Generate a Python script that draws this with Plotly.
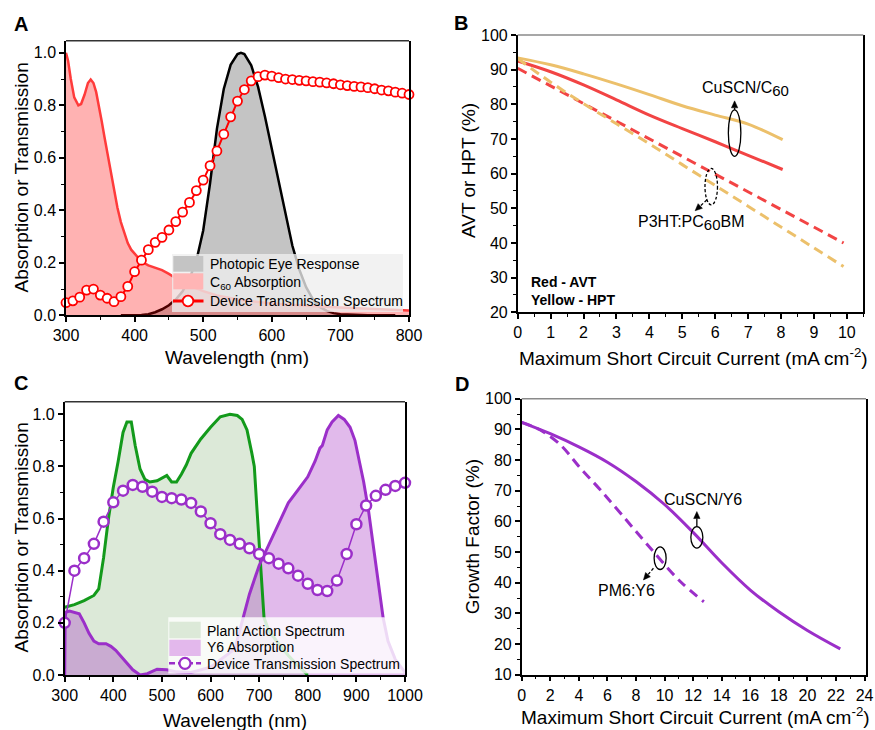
import plotly.graph_objects as go

# ---------------- DATA ----------------
# Panel A
wl_photopic = [380, 390, 400, 410, 420, 430, 440, 450, 460, 470, 480, 490, 500, 510, 520, 530, 540, 550, 555,
               560, 570, 580, 590, 600, 610, 620, 630, 640, 650, 660, 670, 680, 690, 700, 720, 740, 760, 780]
v_photopic = [0.00004, 0.00012, 0.0004, 0.0012, 0.004, 0.0116, 0.023, 0.038, 0.06, 0.091, 0.139, 0.208, 0.323,
              0.503, 0.71, 0.862, 0.954, 0.995, 1.0, 0.995, 0.952, 0.87, 0.757, 0.631, 0.503, 0.381, 0.265,
              0.175, 0.107, 0.061, 0.032, 0.017, 0.0082, 0.0041, 0.00105, 0.00025, 0.00006, 0.000015]
wl_c60 = [300, 303, 307, 312, 318, 322, 327, 332, 336, 340, 344, 348, 352, 356, 360, 365, 370, 375, 380, 385,
          390, 395, 400, 405, 410, 420, 430, 440, 450, 460, 470, 480, 500, 520, 550, 600, 650, 700, 750, 800]
abs_c60 = [1.0, 0.97, 0.9, 0.83, 0.80, 0.805, 0.84, 0.885, 0.898, 0.885, 0.85, 0.80, 0.74, 0.68, 0.62, 0.545,
           0.47, 0.41, 0.355, 0.31, 0.275, 0.25, 0.235, 0.22, 0.205, 0.19, 0.18, 0.172, 0.158, 0.14, 0.125,
           0.113, 0.092, 0.076, 0.06, 0.045, 0.036, 0.03, 0.024, 0.018]
wl_trans_a = list(range(300, 801, 10))
trans_a = [0.048, 0.055, 0.069, 0.096, 0.10, 0.077, 0.065, 0.052, 0.071, 0.11, 0.166, 0.21, 0.25, 0.278, 0.297,
           0.325, 0.357, 0.393, 0.43, 0.475, 0.515, 0.57, 0.626, 0.69, 0.756, 0.816, 0.86, 0.893, 0.909, 0.915,
           0.911, 0.905, 0.90, 0.898, 0.895, 0.893, 0.89, 0.888, 0.885, 0.882, 0.878, 0.875, 0.872, 0.87,
           0.867, 0.863, 0.858, 0.855, 0.85, 0.846, 0.841]

# Panel B
cuscn_x = [0, 1, 2, 3, 4, 5, 6, 7, 8.05]
cuscn_hpt = [93.4, 91.4, 88.8, 85.9, 82.8, 79.6, 76.9, 74.3, 69.8]
cuscn_avt = [92.5, 89.4, 85.6, 81.3, 76.9, 73.0, 69.2, 65.3, 61.2]
p3ht_x = [0, 1, 2, 3, 4, 5, 6, 7, 8, 9, 9.9]
p3ht_avt = [90.4, 85.3, 80.2, 75.1, 70.0, 64.9, 59.8, 54.7, 49.6, 44.5, 40.0]
p3ht_hpt = [93.2, 86.4, 80.2, 74.4, 68.6, 62.6, 56.6, 50.6, 44.6, 38.6, 33.2]

# Panel C
wl_plant = [300, 320, 340, 360, 370, 380, 390, 400, 410, 420, 428, 437, 445, 455, 465, 475, 490, 500, 510, 520,
            530, 540, 550, 560, 580, 600, 620, 640, 655, 665, 675, 685, 690, 695, 700, 705, 710, 720, 740, 760,
            780, 800]
plant = [0.26, 0.27, 0.285, 0.305, 0.33, 0.45, 0.60, 0.72, 0.82, 0.93, 0.97, 0.97, 0.88, 0.79, 0.75, 0.74,
         0.745, 0.755, 0.765, 0.74, 0.74, 0.77, 0.805, 0.85, 0.905, 0.95, 0.99, 1.0, 0.995, 0.98, 0.94, 0.85,
         0.80, 0.65, 0.50, 0.35, 0.22, 0.17, 0.12, 0.075, 0.035, 0.0]
wl_y6 = [300, 301, 310, 320, 330, 340, 350, 360, 370, 385, 395, 405, 420, 440, 455, 470, 490, 510, 530, 560,
         600, 630, 650, 660, 680, 700, 720, 740, 760, 780, 800, 815, 825, 830, 840, 850, 863, 875, 887, 897,
         905, 915, 925, 935, 945, 955, 965, 980, 1000]
abs_y6 = [0.0, 0.24, 0.245, 0.24, 0.235, 0.20, 0.16, 0.13, 0.12, 0.12, 0.11, 0.095, 0.064, 0.02, 0.0, 0.005,
          0.022, 0.02, 0.012, 0.01, 0.03, 0.07, 0.10, 0.17, 0.31, 0.42, 0.50, 0.58, 0.66, 0.71, 0.76, 0.82,
          0.87, 0.88, 0.94, 0.97, 0.995, 0.98, 0.95, 0.90, 0.83, 0.74, 0.63, 0.50, 0.36, 0.22, 0.13, 0.06, 0.01]
wl_trans_c = list(range(300, 1001, 20))
trans_c = [0.20, 0.40, 0.448, 0.503, 0.588, 0.662, 0.707, 0.729, 0.722, 0.703, 0.683, 0.678, 0.673, 0.66,
           0.627, 0.582, 0.54, 0.518, 0.503, 0.486, 0.464, 0.448, 0.427, 0.409, 0.381, 0.35, 0.326, 0.322,
           0.362, 0.464, 0.578, 0.65, 0.687, 0.71, 0.725, 0.737]

# Panel D
cuscn_y6_x = [0, 2, 4, 6, 8, 10, 12, 14, 16, 18, 20, 22.3]
cuscn_y6 = [92.3, 88.6, 84.3, 79.3, 73.0, 65.5, 56.4, 46.5, 37.6, 30.5, 24.4, 18.4]
pm6_x = [0, 1.3, 2.7, 4.1, 5.5, 7.0, 8.8, 11.1, 12.75]
pm6_y6 = [92.3, 89.8, 85.0, 77.4, 70.3, 62.2, 52.4, 40.4, 33.8]

# ---------------- FIGURE ----------------
W, H = 875, 730
FONT = "Liberation Sans, Arial, Helvetica, sans-serif"


def px(x):
    return x / W


def py(y):
    return 1 - y / H


RED = '#ff3b3b'
YEL = '#ecc06b'
RED_B = '#f24444'
PURP = '#9b2fc9'
GREEN = '#139a1b'

# axis pixel geometry: (left px, right px, xmin, xmax), (bottom px, top px, ymin, ymax)
GEO = {
    '': ((66, 409, 300, 800), (315.3, 40.7, 0, 1.046)),
    '2': ((517.7, 863.3, 0, 10.5), (312.3, 35, 20, 100)),
    '3': ((64.7, 405, 300, 1000), (675, 401.7, 0, 1.048)),
    '4': ((521.7, 866, 0, 24.1), (674.7, 398.7, 10, 100)),
}


def to_px(k, x, y):
    (l, r, x0, x1), (b, t, y0, y1) = GEO[k]
    return l + (x - x0) / (x1 - x0) * (r - l), b + (y - y0) / (y1 - y0) * (t - b)


fig = go.Figure()

# Panel A
fig.add_trace(go.Scatter(x=wl_photopic, y=v_photopic, mode='lines', fill='tozeroy', fillcolor='#c4c4c4',
                         line=dict(color='black', width=2.5), xaxis='x', yaxis='y', showlegend=False))
fig.add_trace(go.Scatter(x=wl_c60, y=abs_c60, mode='lines', fill='tozeroy', fillcolor='rgba(255,0,0,0.30)',
                         line=dict(color=RED, width=2.5), xaxis='x', yaxis='y', showlegend=False))
fig.add_trace(go.Scatter(x=wl_trans_a, y=trans_a, mode='lines+markers', line=dict(color='red', width=2),
                         marker=dict(size=9, color='white', line=dict(color='red', width=1.8)),
                         cliponaxis=False, xaxis='x', yaxis='y', showlegend=False))

# Panel B
fig.add_trace(go.Scatter(x=cuscn_x, y=cuscn_hpt, mode='lines', line=dict(color=YEL, width=3, shape='spline'),
                         xaxis='x2', yaxis='y2', showlegend=False))
fig.add_trace(go.Scatter(x=cuscn_x, y=cuscn_avt, mode='lines', line=dict(color=RED_B, width=3, shape='spline'),
                         xaxis='x2', yaxis='y2', showlegend=False))
fig.add_trace(go.Scatter(x=p3ht_x, y=p3ht_avt, mode='lines', line=dict(color=RED_B, width=3, dash='10px,6px'),
                         xaxis='x2', yaxis='y2', showlegend=False))
fig.add_trace(go.Scatter(x=p3ht_x, y=p3ht_hpt, mode='lines',
                         line=dict(color=YEL, width=3, dash='10px,6px', shape='spline'),
                         xaxis='x2', yaxis='y2', showlegend=False))

# Panel C
fig.add_trace(go.Scatter(x=wl_plant, y=plant, mode='lines', fill='tozeroy', fillcolor='#dce9d8',
                         line=dict(width=0, color='rgba(0,0,0,0)'), xaxis='x3', yaxis='y3', showlegend=False))
fig.add_trace(go.Scatter(x=wl_y6, y=abs_y6, mode='lines', fill='tozeroy', fillcolor='rgba(165,45,195,0.33)',
                         line=dict(width=0, color='rgba(0,0,0,0)'), xaxis='x3', yaxis='y3', showlegend=False))
fig.add_trace(go.Scatter(x=wl_plant, y=plant, mode='lines', line=dict(color=GREEN, width=3),
                         xaxis='x3', yaxis='y3', showlegend=False))
fig.add_trace(go.Scatter(x=wl_y6, y=abs_y6, mode='lines', line=dict(color=PURP, width=3),
                         xaxis='x3', yaxis='y3', showlegend=False))
fig.add_trace(go.Scatter(x=wl_trans_c, y=trans_c, mode='lines+markers', line=dict(color=PURP, width=1.5),
                         marker=dict(size=10, color='white', line=dict(color=PURP, width=2.5)),
                         cliponaxis=False, xaxis='x3', yaxis='y3', showlegend=False))

# Panel D
fig.add_trace(go.Scatter(x=cuscn_y6_x, y=cuscn_y6, mode='lines', line=dict(color=PURP, width=3, shape='spline'),
                         xaxis='x4', yaxis='y4', showlegend=False))
fig.add_trace(go.Scatter(x=pm6_x, y=pm6_y6, mode='lines',
                         line=dict(color=PURP, width=3, dash='10px,6px', shape='spline'),
                         xaxis='x4', yaxis='y4', showlegend=False))


def axis(**kw):
    minor = kw.pop('minor', {})
    base = dict(showline=True, linecolor='black', linewidth=1.5, ticks='outside', ticklen=5, tickwidth=1.5,
                tickcolor='black', showgrid=False, zeroline=False, automargin=False,
                tickfont=dict(size=16, color='black', family=FONT),
                minor=dict(ticks='outside', ticklen=3, tickwidth=1.2, tickcolor='black', showgrid=False, **minor))
    base.update(kw)
    return base


def ax_pair(k, xdt, xminor, ydt=None, yminor=None, yvals=None, yfmt=None):
    (l, r, x0, x1), (b, t, y0, y1) = GEO[k]
    xa = axis(domain=[px(l), px(r)], range=[x0, x1], dtick=xdt, anchor='y' + k, minor=dict(dtick=xminor))
    ykw = dict(domain=[py(b), py(t)], range=[y0, y1], anchor='x' + k, mirror=True, minor=dict(dtick=yminor))
    if yvals:
        ykw['tickvals'] = yvals
        ykw['tickformat'] = yfmt
    else:
        ykw['dtick'] = ydt
    return xa, axis(**ykw)


xa1, ya1 = ax_pair('', 100, 50, yminor=0.1, yvals=[0, 0.2, 0.4, 0.6, 0.8, 1.0], yfmt='.1f')
xa2, ya2 = ax_pair('2', 1, 0.5, ydt=10, yminor=5)
xa3, ya3 = ax_pair('3', 100, 50, yminor=0.1, yvals=[0, 0.2, 0.4, 0.6, 0.8, 1.0], yfmt='.1f')
xa4, ya4 = ax_pair('4', 2, 1, ydt=10, yminor=5)

fig.update_layout(
    template='none',
    width=W, height=H, margin=dict(l=0, r=0, t=0, b=0, autoexpand=False),
    paper_bgcolor='white', plot_bgcolor='white',
    font=dict(family=FONT, color='black'),
    xaxis=xa1, yaxis=ya1, xaxis2=xa2, yaxis2=ya2, xaxis3=xa3, yaxis3=ya3, xaxis4=xa4, yaxis4=ya4,
)

shapes = []
ann = []

# top frame lines
for k, col in [('', '#333333'), ('2', '#8a8a8a'), ('3', '#333333'), ('4', '#8a8a8a')]:
    shapes.append(dict(type='line', xref='x%s domain' % k, yref='y%s domain' % k, x0=0, x1=1, y0=1, y1=1,
                       line=dict(color=col, width=1.5), layer='above'))


def rect_px(x0, y0, x1, y1, fill, layer='above'):
    shapes.append(dict(type='rect', xref='paper', yref='paper', x0=px(x0), x1=px(x1), y0=py(y1), y1=py(y0),
                       fillcolor=fill, line=dict(width=0), layer=layer))


def circle_px(cx, cy, r, color, lw):
    shapes.append(dict(type='circle', xref='paper', yref='paper', x0=px(cx - r), x1=px(cx + r),
                       y0=py(cy + r), y1=py(cy - r), fillcolor='white', line=dict(color=color, width=lw),
                       layer='above'))


def line_px(x0, y0, x1, y1, color, lw, dash='solid'):
    shapes.append(dict(type='line', xref='paper', yref='paper', x0=px(x0), x1=px(x1), y0=py(y0), y1=py(y1),
                       line=dict(color=color, width=lw, dash=dash), layer='above'))


def text_px(x, y, t, size=14, xanchor='left', **kw):
    ann.append(dict(xref='paper', yref='paper', x=px(x), y=py(y), text=t, showarrow=False, xanchor=xanchor,
                    yanchor='middle', font=dict(size=size, color='black', family=FONT), **kw))


# Legend A
rect_px(172, 254, 403, 312, 'rgba(238,238,238,0.78)')
rect_px(173.3, 256, 203.3, 271.7, '#c4c4c4')
rect_px(173.3, 273.3, 203.3, 289.3, '#ffb5b5')
line_px(173, 301, 203.5, 301, 'red', 3)
circle_px(188, 301, 5.3, 'red', 1.8)
text_px(208, 264, 'Photopic Eye Response')
text_px(208, 283, 'C<sub>60</sub> Absorption')
text_px(208, 301.5, 'Device Transmission Spectrum')

# Legend C
rect_px(168.3, 617.3, 405, 673.5, 'rgba(255,255,255,0.82)')
rect_px(169.3, 621.7, 200.7, 638.3, '#dce9d8')
rect_px(169.3, 639.7, 200.7, 656, '#e3b8ec')
line_px(169, 663.3, 201, 663.3, PURP, 2.5, dash='6px,3px')
circle_px(185, 663.3, 5.5, PURP, 2.2)
text_px(205, 630.7, 'Plant Action Spectrum')
text_px(205, 647, 'Y6 Absorption')
text_px(205, 663.5, 'Device Transmission Spectrum')

# Panel letters
for t, x, y in [('A', 21.3, 23.7), ('B', 461, 23), ('C', 21, 383), ('D', 461.5, 383.5)]:
    text_px(x, y, '<b>%s</b>' % t, size=20, xanchor='center')

# Axis titles
text_px(237.5, 357, 'Wavelength (nm)', size=19, xanchor='center')
text_px(693, 357, 'Maximum Short Circuit Current (mA cm<sup>-2</sup>)', size=19, xanchor='center')
text_px(235, 720, 'Wavelength (nm)', size=19, xanchor='center')
text_px(695.5, 716, 'Maximum Short Circuit Current (mA cm<sup>-2</sup>)', size=19, xanchor='center')
text_px(20.5, 178, 'Absorption or Transmission', size=19, xanchor='center', textangle=-90)
text_px(468, 170, 'AVT or HPT (%)', size=19, xanchor='center', textangle=-90)
text_px(20.5, 538, 'Absorption or Transmission', size=19, xanchor='center', textangle=-90)
text_px(472.5, 536.7, 'Growth Factor (%)', size=19, xanchor='center', textangle=-90)


# Data-space callouts
def ellipse(k, cx, cy, rx, ry, dash='solid'):
    shapes.append(dict(type='circle', xref='x' + k, yref='y' + k, x0=cx - rx, x1=cx + rx, y0=cy - ry,
                       y1=cy + ry, line=dict(color='black', width=1.3, dash=dash), layer='above'))


def arrow(k, x0, y0, x1, y1, dashed=False, head=7.0, half=3.2):
    sx, sy = to_px(k, x0, y0)
    ex, ey = to_px(k, x1, y1)
    dx, dy = ex - sx, ey - sy
    L = (dx * dx + dy * dy) ** 0.5
    ux, uy = dx / L, dy / L
    bx, by = ex - ux * head, ey - uy * head
    nx, ny = -uy, ux
    line_px(sx, sy, bx, by, 'black', 1.3, dash='3px,2px' if dashed else 'solid')
    path = 'M %f,%f L %f,%f L %f,%f Z' % (px(ex), py(ey), px(bx + nx * half), py(by + ny * half),
                                          px(bx - nx * half), py(by - ny * half))
    shapes.append(dict(type='path', xref='paper', yref='paper', path=path, fillcolor='black',
                       line=dict(color='black', width=0.5), layer='above'))


def dtext(k, x, y, t, size=16, xanchor='center'):
    ann.append(dict(xref='x' + k, yref='y' + k, x=x, y=y, text=t, showarrow=False, xanchor=xanchor,
                    yanchor='middle', font=dict(size=size, color='black', family=FONT)))


SUB60 = "<sub><span style='font-size:15px'>60</span></sub>"

# Panel B
ellipse('2', 6.59, 71.7, 0.19, 6.7)
arrow('2', 6.59, 78.4, 6.59, 81.0)
dtext('2', 6.91, 84.3, 'CuSCN/C' + SUB60)
ellipse('2', 5.88, 56.25, 0.19, 5.25, dash='3px,2px')
arrow('2', 5.745, 52.4, 5.39, 49.3, dashed=True)
dtext('2', 5.28, 45.7, 'P3HT:PC' + SUB60 + 'BM')
dtext('2', 0.35, 28.8, '<b>Red - AVT</b>', size=14, xanchor='left')
dtext('2', 0.35, 23.5, '<b>Yellow - HPT</b>', size=14, xanchor='left')

# Panel D
ellipse('4', 12.26, 54.8, 0.42, 3.5)
arrow('4', 12.26, 58.3, 12.26, 63.2)
dtext('4', 12.72, 67.0, 'CuSCN/Y6')
ellipse('4', 9.69, 48.0, 0.42, 3.7)
arrow('4', 9.22, 44.7, 8.52, 40.9, dashed=True)
dtext('4', 7.35, 37.3, 'PM6:Y6')

fig.update_layout(shapes=shapes, annotations=ann)
fig.write_html("out.html", config={'displayModeBar': False},
               post_script="document.body.style.margin='0';document.body.style.overflow='hidden';")
